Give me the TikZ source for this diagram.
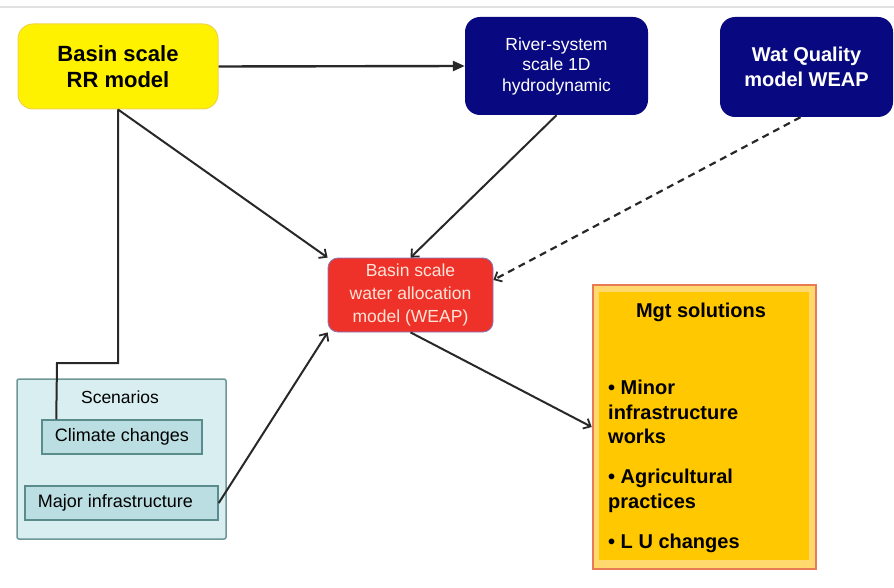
\documentclass[tikz,border=0pt]{standalone}
\usepackage{fontspec}
\setmainfont{Liberation Sans}
\usetikzlibrary{arrows.meta,calc}
\definecolor{ylw}{RGB}{255,242,0}
\definecolor{ylwb}{RGB}{240,212,70}
\definecolor{navy}{RGB}{8,8,128}
\definecolor{redf}{RGB}{238,50,42}
\definecolor{redb}{RGB}{130,120,190}
\definecolor{redt}{RGB}{255,228,215}
\definecolor{mgtb}{RGB}{232,122,85}
\definecolor{mgtband}{RGB}{255,216,110}
\definecolor{mgtin}{RGB}{255,200,0}
\definecolor{scf}{RGB}{216,238,240}
\definecolor{scb}{RGB}{110,150,150}
\definecolor{inf}{RGB}{186,222,226}
\definecolor{inb}{RGB}{90,140,140}
\definecolor{lin}{RGB}{40,40,40}
\definecolor{topl}{RGB}{225,225,225}
\tikzset{
  box/.style={inner sep=0pt, align=center},
  conn/.style={draw=lin, line width=2pt, -{Straight Barb[length=6pt,width=11pt,line width=1.8pt]}},
  dashconn/.style={draw=lin, line width=2.2pt, dash pattern=on 7pt off 5pt, -{Straight Barb[length=6pt,width=11pt,line width=1.8pt]}},
  plain/.style={draw=lin, line width=2pt},
}
\begin{document}
\begin{tikzpicture}[x=1pt,y=-1pt]
\useasboundingbox (0,0) rectangle (894,588);
\draw[topl, line width=1.2pt] (0,7) -- (894,7);

% top boxes
\node[box, fill=ylw, draw=ylwb, line width=1pt, rounded corners=15pt,
  minimum width=200pt, minimum height=85pt,
  font={\fontsize{22}{26}\selectfont\bfseries}] (yellow) at (118,66.5) {Basin scale\\RR model};
\node[box, fill=navy, rounded corners=15pt, text=white,
  minimum width=183pt, minimum height=98pt,
  font={\fontsize{17.5}{20.5}\selectfont}] (river) at (556.5,66) {River-system\\scale 1D\\hydrodynamic};
\node[box, fill=navy, rounded corners=15pt, text=white,
  minimum width=173pt, minimum height=100pt,
  font={\fontsize{20}{25}\selectfont\bfseries}] (wat) at (806.5,67) {Wat Quality\\model WEAP};

% central box
\node[box, fill=redf, draw=redb, line width=0.8pt, rounded corners=10pt, text=redt,
  minimum width=165pt, minimum height=74pt,
  font={\fontsize{17.5}{23}\selectfont}] (red) at (410.5,295) {Basin scale\\water allocation\\model (WEAP)};

% scenarios
\node[box, fill=scf, draw=scb, line width=1.5pt, rounded corners=2pt,
  minimum width=209pt, minimum height=160pt] (scen) at (121.5,459) {};
\node[font={\fontsize{17.5}{20}\selectfont}, anchor=base, inner sep=0pt] (scentitle) at (120,403) {Scenarios};
\node[box, fill=inf, draw=inb, line width=1.5pt,
  minimum width=160pt, minimum height=34pt,
  font={\fontsize{18}{20}\selectfont}] (climate) at (122,437) {Climate changes};
\node[box, fill=inf, draw=inb, line width=1.5pt,
  minimum width=193pt, minimum height=34pt,
  font={\fontsize{18}{20}\selectfont}] (major) at (121.5,503) {\hspace*{-12pt}Major infrastructure};

% management solutions
\node[box, fill=mgtband, draw=mgtb, line width=2.5pt,
  minimum width=223pt, minimum height=284pt] (mgt) at (704.5,427) {};
\fill[mgtin] ([shift={(7pt,-8pt)}]mgt.north west) rectangle ([shift={(-8pt,10pt)}]mgt.south east);
\node[font={\fontsize{20}{24}\selectfont\bfseries}, anchor=base, inner sep=0pt] (mgttitle) at (701,317) {Mgt solutions};
\node[font={\fontsize{20}{24.5}\selectfont\bfseries}, anchor=north west, inner sep=0pt, align=left] (mgtlist) at (608,380)
  {• Minor\\infrastructure\\works\\[15.5pt]• Agricultural\\practices\\[15.5pt]• L U changes};

% connectors
\draw[plain, line width=2.4pt, -{Triangle[length=12pt,width=10pt]}] (yellow.east) -- (river.west);
\draw[conn] (yellow.south) -- (red.north west);
\draw[conn] (river.south) -- (red.north);
\draw[dashconn] ([xshift=-6pt]wat.south) -- ([yshift=15pt]red.east);
\draw[conn] (major.east) -- (red.south west);
\draw[conn] (red.south) -- (mgt.west);
\coordinate (bend) at (57,363);
\draw[plain] (yellow.south) |- (bend) -- ([xshift=15pt]climate.north west);
\end{tikzpicture}
\end{document}
